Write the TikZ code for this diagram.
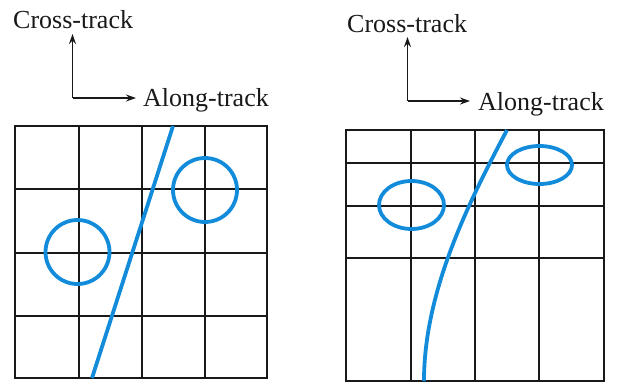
\documentclass[tikz,border=0pt]{standalone}
\usepackage{fontspec}
\setmainfont{Liberation Serif}
\usetikzlibrary{arrows.meta}
\definecolor{trackblue}{RGB}{18,140,218}
\begin{document}
\begin{tikzpicture}[x=1pt,y=-1pt,
  gridline/.style={line width=2pt,black!90},
  blueline/.style={line width=3.8pt,trackblue},
  axisarrow/.style={line width=1.8pt,black!90,-{Stealth[length=10pt,width=7pt]}},
  axislabel/.style={inner sep=0pt,anchor=base west,font=\fontsize{26}{30}\selectfont,text=black!90}]
\useasboundingbox (0,0) rectangle (622,384);
% ---------- left panel ----------
\node[axislabel] (lct) at (13,28) {Cross-track};
\node[axislabel] (lat) at (143,106) {Along-track};
\coordinate (lo) at (72.5,98);
\coordinate (lup) at (72.5,34);
\coordinate (lright) at (136,98);
\draw[axisarrow] (lo) -- (lup);
\draw[axisarrow] (lo) -- (lright);
\draw[gridline] (15,126) rectangle (267,378);
\foreach \x in {79,142,205} \draw[gridline] (\x,126) -- (\x,378);
\foreach \y in {189,253,316} \draw[gridline] (15,\y) -- (267,\y);
\coordinate (ltop) at (173,126);
\coordinate (lbot) at (92,378);
\draw[blueline] (ltop) -- (lbot);
\draw[blueline] (77.5,252) circle (32);
\draw[blueline] (205,190) circle (32);
% ---------- right panel ----------
\node[axislabel] (rct) at (347,32) {Cross-track};
\node[axislabel] (rat) at (478,110) {Along-track};
\coordinate (ro) at (407.5,101);
\coordinate (rup) at (407.5,37);
\coordinate (rright) at (470,101);
\draw[axisarrow] (ro) -- (rup);
\draw[axisarrow] (ro) -- (rright);
\draw[gridline] (346,130) rectangle (604,381);
\foreach \x in {411,475,539} \draw[gridline] (\x,130) -- (\x,381);
\foreach \y in {163,206,258} \draw[gridline] (346,\y) -- (604,\y);
\coordinate (rtop) at (507,130);
\coordinate (rbot) at (424,381);
\draw[blueline] (rtop) .. controls (470,200) and (424,290) .. (rbot);
\draw[blueline] (411.5,205) ellipse (32.5 and 24);
\draw[blueline] (539.5,165) ellipse (32.5 and 19);
\end{tikzpicture}
\end{document}
